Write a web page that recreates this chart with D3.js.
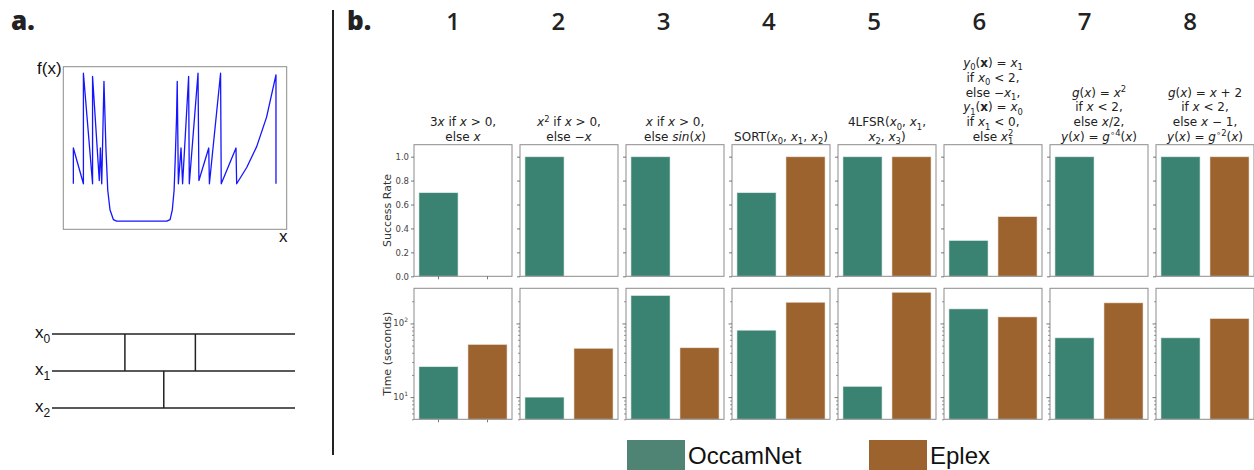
<!DOCTYPE html>
<html>
<head>
<meta charset="utf-8">
<script src="https://cdn.jsdelivr.net/npm/d3@7"></script>
<style>
  body { margin: 0; background: #fff; }
  svg { display: block; }
</style>
</head>
<body>
<svg id="fig" width="1254" height="470"></svg>
<script>
// ---------- data ----------
const methods = ["OccamNet", "Eplex"];
const taskIds = ["1", "2", "3", "4", "5", "6", "7", "8"];

const successOccamNet = [0.7, 1.0, 1.0, 0.7, 1.0, 0.3, 1.0, 1.0];
const successEplex    = [0.0, 0.0, 0.0, 1.0, 1.0, 0.5, 0.0, 1.0];
const timeOccamNet = [26, 10, 240, 81, 14, 158, 64, 64];
const timeEplex    = [52, 46, 47, 194, 265, 123, 191, 117];

const successTicks = [0, 0.2, 0.4, 0.6, 0.8, 1.0];
const timeMajorTicks = [10, 100];
const timeMajorLabels = ["1", "2"];  // exponents of 10
const timeMinorTicks = [5, 6, 7, 8, 9, 20, 30, 40, 50, 60, 70, 80, 90, 200];

// task formulas: *..* italic, !..! bold, _{..} subscript, ^{..} superscript
const taskTitles = [
  ["3*x* if *x* > 0,", "else *x*"],
  ["*x*^{2} if *x* > 0,", "else −*x*"],
  ["*x* if *x* > 0,", "else *sin*(*x*)"],
  ["SORT(*x*_{0}, *x*_{1}, *x*_{2})"],
  ["4LFSR(*x*_{0}, *x*_{1},", "*x*_{2}, *x*_{3})"],
  ["*y*_{0}(!x!) = *x*_{1}", "if *x*_{0} < 2,", "else −*x*_{1},", "*y*_{1}(!x!) = *x*_{0}", "if *x*_{1} < 0,", "else *x*_{1}^{2}"],
  ["*g*(*x*) = *x*^{2}", "if *x* < 2,", "else *x*/2,", "*y*(*x*) = *g*^{∘4}(*x*)"],
  ["*g*(*x*) = *x* + 2", "if *x* < 2,", "else *x* − 1,", "*y*(*x*) = *g*^{∘2}(*x*)"]
];

// panel a: sampled target function f(x)
const curveX = [4.5, 4.5, 9, 9, 13.1, 13.1, 16.1, 16.6, 17.2, 18.2, 19.1, 19.9, 20.9, 22.4, 23.9,
                46.3, 47.8, 48.8, 49.6, 50.1, 50.7, 51.0, 51.5, 52.7, 53.4, 56.1, 56.4, 60.3, 60.7,
                65.1, 65.4, 70.4, 70.7, 77.3, 77.6, 82.1, 86.6, 91.0, 95.2, 95.2];
const curveY = [28, 50, 28, 96, 28, 94, 30, 50, 28, 91, 49, 24, 12, 6, 5,
                5, 6, 12, 24, 43, 69, 91, 28, 50, 28, 94, 28, 96, 30,
                50, 28, 96, 28, 50, 28, 38, 51, 69, 95, 28];

// panel a: sorting network wires and comparators
const wireNames = ["0", "1", "2"];
const gatePos  = [0.30, 0.59, 0.46];
const gateFrom = ["0", "0", "1"];
const gateTo   = ["1", "1", "2"];

// ---------- styles ----------
const colors = { OccamNet: "#3a8272", Eplex: "#9c632e" };
const legendColors = { OccamNet: "#4f8374", Eplex: "#9c632e" };
const frameColor = "#8c8c8c";
const tickColor = "#555";

const svg = d3.select("#fig");
svg.append("rect").attr("width", 1254).attr("height", 470).attr("fill", "#fff");

// ---------- rich text helper ----------
function parseRich(str) {
  const segs = [];
  let italic = false, bold = false, buf = "";
  const flush = () => { if (buf) { segs.push({ text: buf, italic, bold, shift: 0 }); buf = ""; } };
  for (let i = 0; i < str.length; i++) {
    const c = str[i];
    if (c === "*") { flush(); italic = !italic; }
    else if (c === "!") { flush(); bold = !bold; }
    else if ((c === "_" || c === "^") && str[i + 1] === "{") {
      flush();
      const end = str.indexOf("}", i);
      segs.push({ text: str.slice(i + 2, end), italic: false, bold: false, shift: c === "_" ? 1 : -1 });
      i = end;
    } else buf += c;
  }
  flush();
  return segs;
}

function richText(g, str, x, y, size, anchor) {
  const t = g.append("text").attr("x", x).attr("y", y)
    .attr("text-anchor", anchor || "middle")
    .attr("font-family", "DejaVu Sans").attr("font-size", size).attr("fill", "#222");
  const segs = parseRich(str);
  let cur = 0, prevSubWidth = null;
  segs.forEach(s => {
    const target = s.shift === 1 ? size * 0.28 : s.shift === -1 ? -size * 0.38 : 0;
    const ts = t.append("tspan").text(s.text)
      .attr("font-style", s.italic ? "italic" : "normal")
      .attr("font-weight", s.bold ? "bold" : "normal");
    if (s.shift !== 0) ts.attr("font-size", size * 0.7);
    if (target !== cur) ts.attr("dy", target - cur);
    if (s.shift === -1 && prevSubWidth !== null) ts.attr("dx", -prevSubWidth);
    cur = target;
    prevSubWidth = s.shift === 1 ? ts.node().getComputedTextLength() : null;
  });
  return t;
}

// ---------- panel labels & separator ----------
svg.append("text").attr("x", 11).attr("y", 30).text("a.")
  .attr("font-family", "Open Sans").attr("font-weight", 800).attr("font-size", 26).attr("fill", "#222");
svg.append("text").attr("x", 347).attr("y", 30).text("b.")
  .attr("font-family", "Open Sans").attr("font-weight", 800).attr("font-size", 26).attr("fill", "#222");
svg.append("line").attr("x1", 333).attr("x2", 333).attr("y1", 10).attr("y2", 455)
  .attr("stroke", "#222").attr("stroke-width", 2);

// ---------- panel a: function plot ----------
const ax = d3.scaleLinear().domain([0, 100]).range([63.3, 286.7]);
const ay = d3.scaleLinear().domain([0, 100]).range([229.3, 66.7]);
svg.append("rect").attr("x", ax(0)).attr("y", ay(100))
  .attr("width", ax(100) - ax(0)).attr("height", ay(0) - ay(100))
  .attr("fill", "none").attr("stroke", frameColor).attr("stroke-width", 1);
const curve = d3.line().x((d, i) => ax(curveX[i])).y((d, i) => ay(curveY[i]));
svg.append("path").attr("d", curve(curveX)).attr("fill", "none")
  .attr("stroke", "#1515ff").attr("stroke-width", 1.3).attr("stroke-linejoin", "round");
svg.append("text").attr("x", 37).attr("y", 74).text("f(x)")
  .attr("font-family", "Liberation Sans").attr("font-size", 17).attr("fill", "#111");
svg.append("text").attr("x", 279).attr("y", 242).text("x")
  .attr("font-family", "Liberation Sans").attr("font-size", 17).attr("fill", "#111");

// ---------- panel a: sorting network ----------
const wy = d3.scalePoint().domain(wireNames).range([334, 408]);
const wx = d3.scaleLinear().domain([0, 1]).range([52, 295]);
const net = svg.append("g").attr("stroke", "#222").attr("stroke-width", 1.5);
wireNames.forEach(w => {
  net.append("line").attr("x1", wx(0)).attr("x2", wx(1)).attr("y1", wy(w)).attr("y2", wy(w));
});
gatePos.forEach((p, i) => {
  net.append("line").attr("x1", wx(p)).attr("x2", wx(p))
    .attr("y1", wy(gateFrom[i])).attr("y2", wy(gateTo[i]));
});
wireNames.forEach(w => {
  const t = svg.append("text").attr("x", 35).attr("y", wy(w) + 4)
    .attr("font-family", "Liberation Sans").attr("font-size", 17).attr("fill", "#111");
  t.append("tspan").text("x");
  t.append("tspan").text(w).attr("font-size", 12).attr("dy", 5);
});

// ---------- panel b: grid of bar charts ----------
const px = d3.scaleBand().domain(taskIds).range([414, 1254]).paddingInner(8 / 106);
const bx = d3.scaleBand().domain(methods).range([0, px.bandwidth()]).paddingInner(0.2).paddingOuter(0.1);
const ySucc = d3.scaleLinear().domain([0, 1.1]).range([276.3, 144.7]);
const yTime = d3.scaleLog().domain([5, 300]).range([419.3, 288.3]);
const numX = d3.scalePoint().domain(taskIds).range([453, 1190]);

const successBy = { OccamNet: successOccamNet, Eplex: successEplex };
const timeBy = { OccamNet: timeOccamNet, Eplex: timeEplex };

taskIds.forEach((id, i) => {
  const x0 = px(id);
  const w = px.bandwidth();
  const cx = x0 + w / 2;

  // header number
  svg.append("text").attr("x", numX(id)).attr("y", 30).text(id)
    .attr("text-anchor", "middle").attr("font-family", "Open Sans").attr("font-weight", 600)
    .attr("font-size", 24).attr("fill", "#222");

  // title lines, bottom-aligned above the success panel
  const lines = taskTitles[i];
  const lh = 14.8;
  lines.forEach((ln, k) => {
    richText(svg, ln, cx, 141 - (lines.length - 1 - k) * lh, 12);
  });

  // --- success rate panel ---
  const gs = svg.append("g").attr("transform", `translate(${x0},0)`);
  gs.selectAll("rect.bar").data(methods).join("rect").attr("class", "bar")
    .attr("x", m => bx(m)).attr("width", bx.bandwidth())
    .attr("y", m => ySucc(successBy[m][i]))
    .attr("height", m => ySucc(0) - ySucc(successBy[m][i]))
    .attr("fill", m => colors[m]).attr("stroke", "rgba(255,255,255,0.55)").attr("stroke-width", 1);
  gs.append("rect").attr("x", 0).attr("y", ySucc.range()[1]).attr("width", w)
    .attr("height", ySucc.range()[0] - ySucc.range()[1])
    .attr("fill", "none").attr("stroke", frameColor).attr("stroke-width", 1);
  const sAxis = d3.axisLeft(ySucc).tickValues(successTicks).tickSize(3).tickPadding(2)
    .tickFormat(i === 0 ? d3.format(".1f") : () => "");
  const sa = gs.append("g").call(sAxis);
  sa.select(".domain").remove();
  sa.selectAll("line").attr("stroke", tickColor).attr("stroke-width", 0.8);
  sa.selectAll("text").attr("font-family", "DejaVu Sans").attr("font-size", 8.5).attr("fill", "#444");

  // --- time panel ---
  const gt = svg.append("g").attr("transform", `translate(${x0},0)`);
  gt.selectAll("rect.bar").data(methods).join("rect").attr("class", "bar")
    .attr("x", m => bx(m)).attr("width", bx.bandwidth())
    .attr("y", m => yTime(timeBy[m][i]))
    .attr("height", m => yTime(5) - yTime(timeBy[m][i]))
    .attr("fill", m => colors[m]).attr("stroke", "rgba(255,255,255,0.55)").attr("stroke-width", 1);
  gt.append("rect").attr("x", 0).attr("y", yTime.range()[1]).attr("width", w)
    .attr("height", yTime.range()[0] - yTime.range()[1])
    .attr("fill", "none").attr("stroke", frameColor).attr("stroke-width", 1);
  const minorAxis = gt.append("g").call(d3.axisLeft(yTime).tickValues(timeMinorTicks).tickSize(2).tickFormat(() => ""));
  minorAxis.select(".domain").remove();
  minorAxis.selectAll("line").attr("stroke", tickColor).attr("stroke-width", 0.6);
  const majorAxis = gt.append("g").call(d3.axisLeft(yTime).tickValues(timeMajorTicks).tickSize(3.5).tickFormat(() => ""));
  majorAxis.select(".domain").remove();
  majorAxis.selectAll("line").attr("stroke", tickColor).attr("stroke-width", 0.8);
  if (i === 0) {
    timeMajorTicks.forEach((v, k) => {
      const t = gt.append("text").attr("x", -6).attr("y", yTime(v) + 3)
        .attr("text-anchor", "end").attr("font-family", "DejaVu Sans").attr("font-size", 8.5).attr("fill", "#444");
      t.append("tspan").text("10");
      t.append("tspan").text(timeMajorLabels[k]).attr("font-size", 6).attr("dy", -4);
    });
    // x ticks beneath the first column
    [ySucc.range()[0], yTime.range()[0]].forEach(yb => {
      methods.forEach(m => {
        gs.append("line").attr("x1", bx(m) + bx.bandwidth() / 2).attr("x2", bx(m) + bx.bandwidth() / 2)
          .attr("y1", yb).attr("y2", yb + 3).attr("stroke", tickColor).attr("stroke-width", 0.8);
      });
    });
  }
});

// y-axis titles
svg.append("text").attr("transform", `translate(391,${(ySucc.range()[0] + ySucc.range()[1]) / 2}) rotate(-90)`)
  .attr("text-anchor", "middle").attr("font-family", "DejaVu Sans").attr("font-size", 11)
  .attr("fill", "#333").text("Success Rate");
svg.append("text").attr("transform", `translate(391,${(yTime.range()[0] + yTime.range()[1]) / 2}) rotate(-90)`)
  .attr("text-anchor", "middle").attr("font-family", "DejaVu Sans").attr("font-size", 11)
  .attr("fill", "#333").text("Time (seconds)");

// ---------- legend ----------
const legendX = { OccamNet: 627, Eplex: 869 };
methods.forEach(m => {
  svg.append("rect").attr("x", legendX[m]).attr("y", 440).attr("width", 58).attr("height", 30)
    .attr("fill", legendColors[m]);
  svg.append("text").attr("x", legendX[m] + 61).attr("y", 464).text(m)
    .attr("font-family", "Liberation Sans").attr("font-size", 24).attr("fill", "#111");
});
</script>
</body>
</html>
